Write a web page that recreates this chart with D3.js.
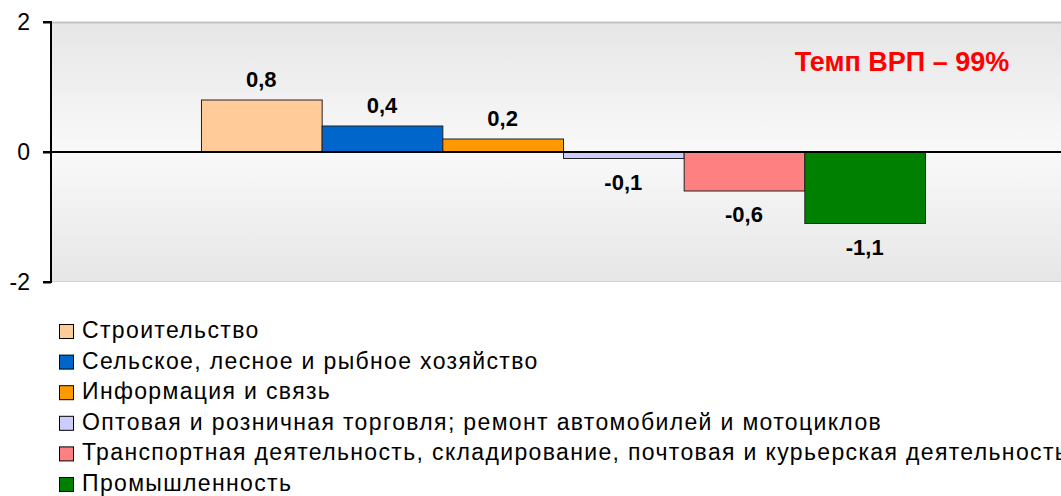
<!DOCTYPE html>
<html>
<head>
<meta charset="utf-8">
<script src="https://cdn.jsdelivr.net/npm/d3@7"></script>
<style>
  html, body { margin: 0; padding: 0; background: #fff; }
  svg { display: block; font-family: "Liberation Sans", Arial, sans-serif; }
</style>
</head>
<body>
<svg id="chart" width="1061" height="496"></svg>
<script>
// Вклад видов деятельности в изменение ВРП, п.п.
const sectors = [
  "Строительство",
  "Сельское, лесное и рыбное хозяйство",
  "Информация и связь",
  "Оптовая и розничная торговля; ремонт автомобилей и мотоциклов",
  "Транспортная деятельность, складирование, почтовая и курьерская деятельность",
  "Промышленность"
];
const contributions = [0.8, 0.4, 0.2, -0.1, -0.6, -1.1];
const valueLabels = ["0,8", "0,4", "0,2", "-0,1", "-0,6", "-1,1"];
const sectorColors = ["#ffcc99", "#0066cc", "#ff9900", "#ccccff", "#ff8080", "#008000"];
const yTicks = [-2, 0, 2];
const yTickLabels = ["-2", "0", "2"];
const headline = "Темп ВРП – 99%";

const svg = d3.select("#chart");
const plot = { left: 51, top: 22, width: 1024, height: 260 };

const x = d3.scaleBand()
  .domain(sectors)
  .range([0, plot.width])
  .paddingInner(0)
  .paddingOuter(1.243);

const y = d3.scaleLinear()
  .domain([-2, 2])
  .range([plot.height, 0]);

// Фон области построения: светлый центр, серые края
const defs = svg.append("defs");
const grad = defs.append("linearGradient")
  .attr("id", "plotBg").attr("x1", 0).attr("y1", 0).attr("x2", 0).attr("y2", 1);
grad.append("stop").attr("offset", "0%").attr("stop-color", "#e6e6e6");
grad.append("stop").attr("offset", "50%").attr("stop-color", "#f9f9f9");
grad.append("stop").attr("offset", "100%").attr("stop-color", "#e6e6e6");

const g = svg.append("g").attr("transform", `translate(${plot.left},${plot.top})`);

g.append("rect")
  .attr("x", 0).attr("y", 0)
  .attr("width", plot.width).attr("height", plot.height)
  .attr("fill", "url(#plotBg)");

g.append("line")
  .attr("x1", 0).attr("x2", plot.width)
  .attr("y1", 0.5).attr("y2", 0.5)
  .attr("stroke", "#c4c4c4").attr("stroke-width", 2);
g.append("line")
  .attr("x1", 0).attr("x2", plot.width)
  .attr("y1", plot.height - 0.5).attr("y2", plot.height - 0.5)
  .attr("stroke", "#d4d4d4").attr("stroke-width", 1);

// Столбцы
g.selectAll("rect.bar")
  .data(contributions)
  .join("rect")
  .attr("class", "bar")
  .attr("x", (d, i) => x(sectors[i]) + 0.5)
  .attr("y", d => Math.min(y(d), y(0)))
  .attr("width", x.bandwidth())
  .attr("height", d => Math.abs(y(d) - y(0)))
  .attr("fill", (d, i) => sectorColors[i])
  .attr("stroke", "#222")
  .attr("stroke-width", 1);

// Подписи значений
g.selectAll("text.val")
  .data(contributions)
  .join("text")
  .attr("class", "val")
  .attr("x", (d, i) => x(sectors[i]) + x.bandwidth() / 2)
  .attr("y", d => d >= 0 ? y(d) - 13 : y(d) + 31)
  .attr("text-anchor", "middle")
  .attr("font-size", 22)
  .attr("font-weight", "bold")
  .attr("fill", "#000")
  .text((d, i) => valueLabels[i]);

// Нулевая линия
g.append("line")
  .attr("x1", -8).attr("x2", plot.width)
  .attr("y1", y(0)).attr("y2", y(0))
  .attr("stroke", "#000").attr("stroke-width", 2);

// Ось Y
const yAxis = d3.axisLeft(y)
  .tickValues(yTicks)
  .tickSize(8)
  .tickPadding(13)
  .tickFormat((d, i) => yTickLabels[i]);
const ya = g.append("g").call(yAxis);
ya.select(".domain").attr("stroke", "#000").attr("stroke-width", 2)
  .attr("d", `M-8,${y(2)}H0V${y(-2)}H-8`);
ya.selectAll(".tick line").attr("stroke", "#000").attr("stroke-width", 2);
ya.selectAll(".tick text")
  .attr("font-size", 23)
  .attr("font-family", "\"Liberation Sans\", Arial, sans-serif")
  .attr("fill", "#000");

// Заголовок
svg.append("text")
  .attr("x", 902).attr("y", 71)
  .attr("text-anchor", "middle")
  .attr("font-size", 27)
  .attr("font-weight", "bold")
  .attr("fill", "#ff0000")
  .text(headline);

// Легенда
const legend = svg.append("g").attr("transform", "translate(59,324)");
const rowH = 30.6;
const item = legend.selectAll("g.item")
  .data(sectors)
  .join("g")
  .attr("class", "item")
  .attr("transform", (d, i) => `translate(0,${i * rowH})`);
item.append("rect")
  .attr("x", 0.5).attr("y", 0.5)
  .attr("width", 14).attr("height", 14)
  .attr("fill", (d, i) => sectorColors[i])
  .attr("stroke", "#000").attr("stroke-width", 1);
item.append("text")
  .attr("x", 23).attr("y", 14)
  .attr("font-size", 23)
  .attr("letter-spacing", 1.35)
  .attr("fill", "#000")
  .text(d => d);
</script>
</body>
</html>
